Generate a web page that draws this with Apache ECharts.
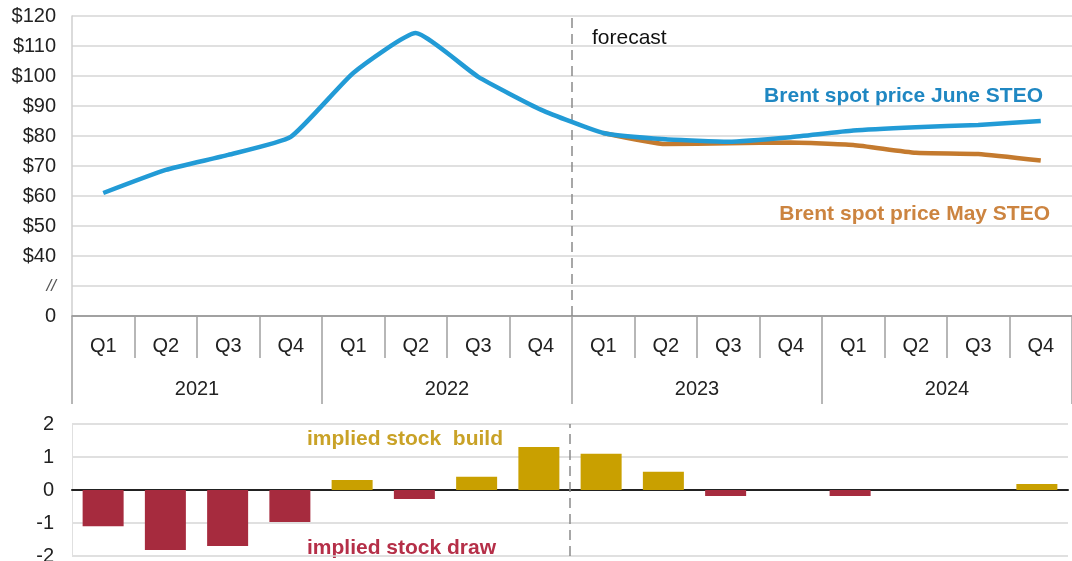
<!DOCTYPE html>
<html>
<head>
<meta charset="utf-8">
<script src="https://cdn.jsdelivr.net/npm/echarts@6/dist/echarts.min.js"></script>
<style>
  html, body { margin: 0; padding: 0; background: #fff; }
  #chart { width: 1072px; height: 561px; }
</style>
</head>
<body>
<div id="chart"></div>
<script>
// ---- data ----
const quarters = ['Q1','Q2','Q3','Q4','Q1','Q2','Q3','Q4','Q1','Q2','Q3','Q4','Q1','Q2','Q3','Q4'];
const years = ['2021', '2022', '2023', '2024'];
const juneSTEO = [61, 68.7, 73.7, 79.7, 101, 114.3, 99.7, 88.8, 81, 78.9, 78.1, 79.6, 81.8, 82.9, 83.7, 85];
const maySTEO = [null, null, null, null, null, null, null, null, 81, 77.3, 77.6, 77.8, 77, 74.4, 74, 71.8];
const stockChange = [-1.1, -1.82, -1.7, -0.97, 0.3, -0.27, 0.4, 1.3, 1.1, 0.55, -0.18, 0, -0.18, 0, 0, 0.18];
const forecastStart = 8; // index of first forecast quarter (2023 Q1)
const priceTicks = { min: 20, max: 120, interval: 10 }; // 20 drawn as "0", 30 as axis break "//"
const stockTicks = { min: -2, max: 2, interval: 1 };

const FONT = '"Liberation Sans", Arial, sans-serif';
const blue = '#229bd6';
const orange = '#c47a2e';
const red = '#a62b3e';
const gold = '#c9a000';
const gridGray = '#d6d6d6';

const chart = echarts.init(document.getElementById('chart'));
const option = {
  animation: false,
  backgroundColor: '#ffffff',
  textStyle: { fontFamily: FONT },
  grid: [
    { left: 72, right: 0, top: 16, height: 300, outerBoundsMode: 'none', containLabel: false },
    { left: 72, right: 4, top: 424, height: 132, outerBoundsMode: 'none', containLabel: false }
  ],
  xAxis: [
    { // quarters
      type: 'category', gridIndex: 0, data: quarters, boundaryGap: true,
      axisLine: { show: true, lineStyle: { color: '#8c8c8c', width: 1.5 } },
      axisTick: { show: true, interval: 0, alignWithLabel: false, length: 42, lineStyle: { color: '#a0a0a0', width: 1.5 } },
      axisLabel: { show: true, interval: 0, margin: 20, fontSize: 20, color: '#222', fontFamily: FONT }
    },
    { // years
      type: 'category', gridIndex: 0, position: 'bottom', data: years, boundaryGap: true,
      axisLine: { show: false },
      axisTick: { show: true, interval: 0, alignWithLabel: false, length: 88, lineStyle: { color: '#a0a0a0', width: 1.5 } },
      axisLabel: { show: true, interval: 0, margin: 63, fontSize: 20, color: '#222', fontFamily: FONT }
    },
    { // bottom chart categories
      type: 'category', gridIndex: 1, data: quarters, boundaryGap: true,
      axisLine: { show: true, onZero: true, lineStyle: { color: '#222', width: 2 } },
      axisTick: { show: false }, axisLabel: { show: false }
    },
    { type: 'value', gridIndex: 0, min: 0, max: quarters.length, show: false },
    { type: 'value', gridIndex: 1, min: 0, max: quarters.length, show: false }
  ],
  yAxis: [
    {
      type: 'value', gridIndex: 0, min: priceTicks.min, max: priceTicks.max, interval: priceTicks.interval,
      axisLine: { show: true, lineStyle: { color: '#cfcfcf', width: 1.5 } },
      axisTick: { show: false },
      splitLine: { show: true, lineStyle: { color: gridGray, width: 1.5 } },
      axisLabel: {
        fontSize: 20, color: '#222', margin: 16, fontFamily: FONT,
        formatter: v => v === 20 ? '0' : (v === 30 ? '{brk|//}' : '$' + v),
        rich: { brk: { fontSize: 17, fontStyle: 'italic', color: '#555', fontFamily: FONT } }
      }
    },
    {
      type: 'value', gridIndex: 1, min: stockTicks.min, max: stockTicks.max, interval: stockTicks.interval,
      axisLine: { show: true, lineStyle: { color: '#e0e0e0', width: 1 } },
      axisTick: { show: false },
      splitLine: { show: true, lineStyle: { color: gridGray, width: 1.5 } },
      axisLabel: { fontSize: 20, color: '#222', margin: 18, fontFamily: FONT }
    }
  ],
  series: [
    {
      name: 'forecast divider top', type: 'line', xAxisIndex: 3, yAxisIndex: 0, silent: true,
      data: [[forecastStart, priceTicks.min], [forecastStart, priceTicks.max]],
      symbol: 'none', lineStyle: { color: '#8a8a8a', width: 1.5, type: [10, 6] }, z: 1
    },
    {
      name: 'forecast divider bottom', type: 'line', xAxisIndex: 4, yAxisIndex: 1, silent: true,
      data: [[forecastStart, stockTicks.min], [forecastStart, stockTicks.max]],
      symbol: 'none', lineStyle: { color: '#8a8a8a', width: 1.5, type: [10, 6] }, z: 1
    },
    {
      name: 'Brent spot price May STEO', type: 'line', xAxisIndex: 0, yAxisIndex: 0,
      data: maySTEO, symbol: 'none', smooth: 0.15, connectNulls: false,
      lineStyle: { color: orange, width: 4.5 }, z: 3
    },
    {
      name: 'Brent spot price June STEO', type: 'line', xAxisIndex: 0, yAxisIndex: 0,
      data: juneSTEO, symbol: 'none', smooth: 0.15,
      lineStyle: { color: blue, width: 4.5 }, z: 4
    },
    {
      name: 'implied stock change', type: 'bar', xAxisIndex: 2, yAxisIndex: 1,
      data: stockChange, barWidth: 41,
      itemStyle: { color: p => (p.value >= 0 ? gold : red) }, z: 3
    }
  ],
  graphic: [
    { type: 'text', left: 592, top: 28, style: { text: 'forecast', fontSize: 21, fill: '#111', fontFamily: FONT } },
    { type: 'text', right: 29, top: 86, style: { text: 'Brent spot price June STEO', fontSize: 21, fontWeight: 'bold', fill: '#1f87c2', fontFamily: FONT } },
    { type: 'text', right: 22, top: 204, style: { text: 'Brent spot price May STEO', fontSize: 21, fontWeight: 'bold', fill: '#cc8440', fontFamily: FONT } },
    { type: 'text', left: 307, top: 429, style: { text: 'implied stock  build', fontSize: 21, fontWeight: 'bold', fill: '#c9a227', fontFamily: FONT } },
    { type: 'text', left: 307, top: 538, style: { text: 'implied stock draw', fontSize: 21, fontWeight: 'bold', fill: '#b52f48', fontFamily: FONT } }
  ]
};
chart.setOption(option);
</script>
</body>
</html>
